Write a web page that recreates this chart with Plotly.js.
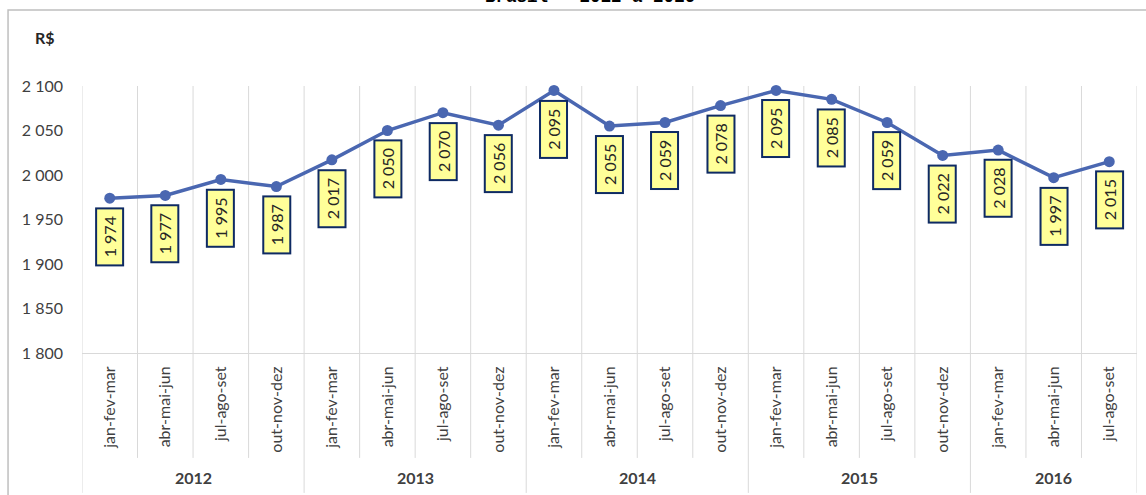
<!DOCTYPE html>
<html>
<head>
<meta charset="utf-8">
<script src="https://cdn.plot.ly/plotly-3.0.1.min.js"></script>
<style>html,body{margin:0;padding:0;background:#fff;}#chart{width:1146px;height:495px;}</style>
</head>
<body>
<div id="chart"></div>
<script>
// ---- data ----
const periodYear = ['2012','2012','2012','2012','2013','2013','2013','2013','2014','2014','2014','2014','2015','2015','2015','2015','2016','2016','2016'];
const periodQuarter = ['jan-fev-mar','abr-mai-jun','jul-ago-set','out-nov-dez','jan-fev-mar','abr-mai-jun','jul-ago-set','out-nov-dez','jan-fev-mar','abr-mai-jun','jul-ago-set','out-nov-dez','jan-fev-mar','abr-mai-jun','jul-ago-set','out-nov-dez','jan-fev-mar','abr-mai-jun','jul-ago-set'];
const income = [1974,1977,1995,1987,2017,2050,2070,2056,2095,2055,2059,2078,2095,2085,2059,2022,2028,1997,2015];
const yearLabels = ['2012','2013','2014','2015','2016'];
const yTicks = [1800,1850,1900,1950,2000,2050,2100];
const titleText = 'Brasil - 2012 a 2016';
const unitText = 'R$';

// ---- build ----
const ids = periodYear.map((y,i)=>y+' '+periodQuarter[i]+' #'+i);
const n = ids.length;
const FONT = 'Lato, "Open Sans", sans-serif';
const TXT = '#404040';
const fmt = v => { const s = String(v); return s.slice(0, s.length-3) + ' ' + s.slice(-3); };

const trace = {
  x: ids, y: income, type: 'scatter', mode: 'lines+markers',
  line: {color: '#4A67B1', width: 3.5},
  marker: {color: '#4A67B1', size: 11},
  hoverinfo: 'skip', cliponaxis: false
};

const annotations = [];
income.forEach((v,i)=>{
  annotations.push({
    x: ids[i], y: v, xref: 'x', yref: 'y',
    text: '\u00a0' + fmt(v) + '\u00a0', textangle: -90, showarrow: false,
    xanchor: 'center', yanchor: 'top', yshift: -9,
    bgcolor: '#FFFF99', bordercolor: '#0E2A63', borderwidth: 2, borderpad: 3,
    font: {family: FONT, size: 16, color: '#262626'}
  });
});
// year group labels
yearLabels.forEach(y=>{
  const idx = periodYear.map((p,i)=>p===y?i:-1).filter(i=>i>=0);
  const c = (idx[0] + idx[idx.length-1]) / 2;
  annotations.push({
    x: c, y: -0.468, xref: 'x', yref: 'paper', text: '<b>'+y+'</b>', showarrow: false,
    xanchor: 'center', yanchor: 'middle',
    font: {family: FONT, size: 16, color: TXT}
  });
});
annotations.push({
  x: -0.035, y: 1.18, xref: 'paper', yref: 'paper', text: '<b>'+unitText+'</b>', showarrow: false,
  xanchor: 'center', yanchor: 'middle', font: {family: FONT, size: 16, color: '#262626'}
});
annotations.push({
  x: 0.4815, y: 1.292, xref: 'paper', yref: 'paper', text: '<b>'+titleText+'</b>', showarrow: false,
  xanchor: 'center', yanchor: 'bottom', borderpad: 0,
  font: {family: '"Liberation Mono", monospace', size: 17.5, color: '#000'}
});

const shapes = [];
// outer chart border
shapes.push({type: 'rect', xref: 'paper', yref: 'paper', x0: -0.0701, x1: 1.02, y0: -0.6, y1: 1.2846,
  line: {color: '#BFBFBF', width: 1.5}, fillcolor: 'rgba(0,0,0,0)', layer: 'below'});
// category separators in label area
for (let i = 0; i <= n; i++) {
  const yearBreak = (i === 0 || i === n || periodYear[i] !== periodYear[i-1]);
  shapes.push({type: 'line', xref: 'x', yref: 'paper', x0: i-0.5, x1: i-0.5, y0: 1, y1: yearBreak ? -0.524 : -0.393,
    line: {color: '#D9D9D9', width: 1}, layer: 'below'});
}

const layout = {
  width: 1146, height: 495,
  margin: {l: 82, r: 9, t: 86, b: 142},
  paper_bgcolor: '#fff', plot_bgcolor: '#fff',
  showlegend: false,
  separators: ', ',
  xaxis: {
    type: 'category', range: [-0.5, n-0.5],
    tickmode: 'array', tickvals: ids, ticktext: periodQuarter, tickangle: -90,
    showgrid: false, zeroline: false, ticks: '',
    showline: true, linecolor: '#D9D9D9', linewidth: 1,
    ticklabelstandoff: 6,
    tickfont: {family: FONT, size: 16, color: TXT}, fixedrange: true
  },
  yaxis: {
    range: [1800, 2100], tickmode: 'array', tickvals: yTicks, ticktext: yTicks.map(fmt),
    showgrid: false, zeroline: false, showline: false, ticks: '',
    ticklabelstandoff: 18,
    tickfont: {family: FONT, size: 16, color: TXT}, fixedrange: true
  },
  annotations: annotations,
  shapes: shapes
};

Plotly.newPlot('chart', [trace], layout, {displayModeBar: false, staticPlot: true});
</script>
</body>
</html>
